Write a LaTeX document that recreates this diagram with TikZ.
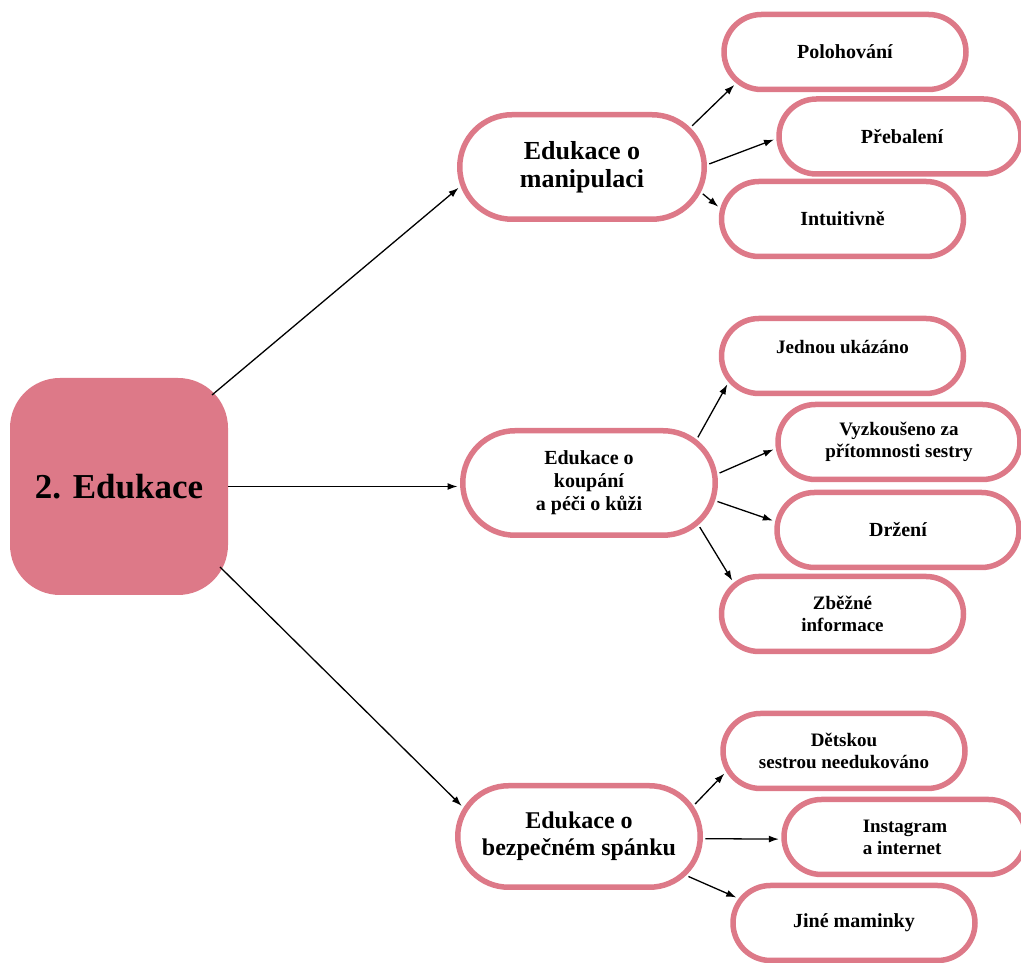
\documentclass[tikz,border=0pt]{standalone}
\usepackage{fontspec}
\setmainfont{Liberation Serif}
\usetikzlibrary{shapes.misc,arrows.meta}
\definecolor{pinkc}{RGB}{221,121,136}
\tikzset{
  rbox/.style={rounded rectangle, draw=pinkc, line width=5.5pt, fill=white,
    align=center, inner sep=0pt, font=\bfseries},
  rsmall/.style={rbox, minimum width=242pt, minimum height=75pt},
  mainbox/.style={rectangle, rounded corners=50pt, fill=pinkc, draw=none,
    minimum width=218pt, minimum height=217pt, inner sep=0pt,
    font=\bfseries\fontsize{35pt}{40pt}\selectfont},
  arr/.style={-{Latex[length=10pt,width=7pt]}, line width=1.3pt, black,
    shorten >=2.5pt},
  arrm/.style={arr, shorten <=2.5pt},
  fA/.style={font=\bfseries\fontsize{20pt}{23pt}\selectfont},
  fB/.style={font=\bfseries\fontsize{19pt}{22pt}\selectfont},
}
\begin{document}
\begin{tikzpicture}[x=1pt,y=1pt]
\useasboundingbox (0,0) rectangle (1021,963);

\node[mainbox] (main) at (119,476.5) {2. Edukace};

\node[rbox, minimum width=244.5pt, minimum height=104.5pt,
  font=\bfseries\fontsize{26pt}{28pt}\selectfont] (m1) at (582,796) {Edukace o\\manipulaci};
\node[rbox, minimum width=252.5pt, minimum height=104.5pt,
  font=\bfseries\fontsize{20pt}{23pt}\selectfont] (m2) at (589,480) {Edukace o\\koupání\\a péči o kůži};
\node[rbox, minimum width=242.5pt, minimum height=101.5pt,
  font=\bfseries\fontsize{24pt}{27pt}\selectfont] (m3) at (579,126.5) {Edukace o\\bezpečném spánku};

\node[rsmall, fA] (p1) at (845,911) {Polohování};
\node[rsmall, fA] (p2) at (900,826.5) {\hspace*{4pt}Přebalení};
\node[rsmall, fA] (p3) at (842.5,744) {Intuitivně};

\node[rsmall, label={[fB, yshift=9pt]center:Jednou ukázáno}] (q1) at (842.5,607) {};
\node[rsmall, fB] (q2) at (899,521) {Vyzkoušeno za\\přítomnosti sestry};
\node[rsmall, fA] (q3) at (898,433) {Držení};
\node[rsmall, fB] (q4) at (842.5,349) {Zběžné\\informace};

\node[rsmall, fB] (r1) at (844,212) {Dětskou\\sestrou needukováno};
\node[rsmall, fB, align=left] (r2) at (905,126) {Instagram\\a internet};
\node[rsmall, fA] (r3) at (854,40) {Jiné maminky};

% main connectors
\draw[arr] ([xshift=93pt,yshift=91.5pt]main.center) -- (m1.189.4);
\draw[arr] (main.east) -- (main.east -| m2.west);
\draw[arr] ([xshift=101pt,yshift=-80.5pt]main.center) -- (m3.166.4);

% m1
\draw[arrm] (m1.20) -- (p1.196);
\draw[arrm] (m1.1) -- (p2.181.6);
\draw[arrm] (m1.-12) -- (p3.175.9);

% m2
\draw[arrm] (m2.22.9) -- (q1.193.9);
\draw[arrm] (m2.4.4) -- (q2.183.3);
\draw[arrm] (m2.-8.8) -- (q3.176.8);
\draw[arrm] (m2.-21.7) -- (q4.164.3);

% m3
\draw[arrm] (m3.15.4) -- (r1.190.3);
\draw[arrm] (m3.-1.6) -- (r2.181.4);
\draw[arrm] (m3.-20.5) -- (r3.168.9);
\end{tikzpicture}
\end{document}
